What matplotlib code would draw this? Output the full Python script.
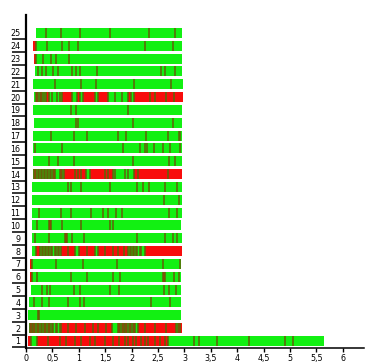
import matplotlib
matplotlib.use("Agg")
import matplotlib.pyplot as plt
import numpy as np

# ---- data: for each row, segment edges (start ... end) and segment colours (g=green, r=red)
r25_edges = [0.18, 0.37, 0.66, 1.02, 1.59, 2.33, 2.83, 2.95]
r25_cols = "ggggggg"
r24_edges = [0.14, 0.18, 0.40, 0.69, 0.82, 0.99, 2.25, 2.79, 2.95]
r24_cols = "rggggggg"
r23_edges = [0.15, 0.18, 0.33, 0.47, 0.56, 0.81, 2.95]
r23_cols = "rggggg"
r22_edges = [0.17, 0.22, 0.30, 0.38, 0.52, 0.61, 0.87, 0.95, 1.02, 1.35, 2.56, 2.64, 2.83, 2.95]
r22_cols = "ggggggggggggg"
r21_edges = [0.14, 0.54, 1.04, 1.33, 2.05, 2.74, 2.97]
r21_cols = "gggggg"
r20_edges = [0.145, 0.19, 0.23, 0.27, 0.30, 0.34, 0.37, 0.44, 0.49, 0.58, 0.64, 0.68, 0.88,
             0.96, 1.02, 1.07, 1.31, 1.36, 1.56, 1.69, 1.81, 1.93, 1.98, 2.04, 2.35, 2.44,
             2.66, 2.80, 2.97]
r20_cols = "grgrggrggggrgrgrgrgggrgrrrrr"
r19_edges = [0.13, 0.86, 0.95, 1.94, 2.95]
r19_cols = "gggg"
r18_edges = [0.15, 0.95, 0.98, 2.03, 2.79, 2.95]
r18_cols = "ggggg"
r17_edges = [0.13, 0.47, 0.90, 1.16, 1.75, 1.89, 2.27, 2.68, 2.89, 2.92, 2.95]
r17_cols = "gggggggggg"
r16_edges = [0.13, 0.17, 0.69, 1.84, 2.16, 2.25, 2.30, 2.42, 2.60, 2.73, 2.92, 2.95]
r16_cols = "ggggggggggg"
r15_edges = [0.13, 0.44, 0.60, 0.90, 2.03, 2.70, 2.83, 2.95]
r15_cols = "ggggggg"
r14_edges = [0.13, 0.16, 0.18, 0.22, 0.24, 0.28, 0.30, 0.34, 0.36, 0.40, 0.42, 0.46, 0.48,
             0.52, 0.54, 0.64, 0.68, 0.72, 0.92, 0.98, 1.05, 1.14, 1.21, 1.49, 1.55, 1.65,
             1.68, 1.87, 1.93, 2.05, 2.12, 2.69, 2.95]
r14_cols = "grgrgrgrgrgrgr" + "grgrrrrgrrrggggrrr"
r13_edges = [0.12, 0.80, 0.86, 1.05, 1.59, 2.10, 2.22, 2.33, 2.63, 2.85, 2.95]
r13_cols = "gggggggggg"
r12_edges = [0.12, 2.62, 2.90, 2.95]
r12_cols = "ggg"
r11_edges = [0.12, 0.25, 0.66, 0.85, 1.23, 1.46, 1.55, 1.70, 1.81, 2.70, 2.85, 2.95]
r11_cols = "ggggggggggg"
r10_edges = [0.12, 0.21, 0.44, 0.47, 0.68, 1.05, 1.59, 1.64, 2.94]
r10_cols = "ggrggggg"
r09_edges = [0.12, 0.17, 0.44, 0.74, 0.77, 0.88, 1.09, 2.10, 2.63, 2.79, 2.85, 2.95]
r09_cols = "gggrggggggg"
r08_edges = [0.12, 0.19, 0.26, 0.30, 0.32, 0.36, 0.38, 0.42, 0.44, 0.48, 0.50, 0.54, 0.56,
             0.60, 0.62, 0.66, 0.80, 0.93, 1.00, 1.15, 1.30, 1.36, 1.50, 1.65, 1.75, 1.85,
             1.93, 1.97, 1.99, 2.03, 2.05, 2.09, 2.11, 2.15, 2.17, 2.25, 2.95]
r08_cols = "gr" + "grgrgrgrgrgrg" + "rrgrrgrrrrr" + "grgrgrgrgr"
r07_edges = [0.07, 0.12, 0.57, 1.07, 1.73, 2.60, 2.92, 2.94]
r07_cols = "rgggggg"
r06_edges = [0.07, 0.11, 0.21, 0.85, 1.16, 1.65, 1.78, 2.60, 2.63, 2.80, 2.89, 2.94]
r06_cols = "rggggggrggg"
r05_edges = [0.09, 0.30, 0.39, 0.45, 0.90, 1.02, 1.59, 1.76, 2.62, 2.71, 2.84, 2.94]
r05_cols = "ggggggggggg"
r04_edges = [0.05, 0.16, 0.30, 0.44, 0.80, 1.02, 1.09, 2.37, 2.73, 2.94]
r04_cols = "ggggggggg"
r03_edges = [0.04, 0.23, 0.25, 2.94]
r03_cols = "grg"
r02_edges = [0.05, 0.08, 0.11, 0.14, 0.17, 0.21, 0.24, 0.28, 0.31, 0.35, 0.38, 0.42, 0.45,
             0.49, 0.52, 0.56, 0.59, 0.64, 0.67, 0.80, 0.95, 1.11, 1.27, 1.36, 1.52, 1.62,
             1.74, 1.78, 1.81, 1.85, 1.88, 1.92, 1.95, 1.99, 2.02, 2.06, 2.12, 2.25, 2.44,
             2.66, 2.84, 2.88, 2.91, 2.95]
r02_cols = "grgrgrgrgrgrgrgrgr" + "rrrrrrr" + "grgrgrgrgrg" + "rrrrgrr"
r01_edges = [0.04, 0.10, 0.20, 0.42, 0.64, 0.76, 0.92, 1.05, 1.21, 1.30, 1.49, 1.65, 1.77,
             1.87, 1.93, 2.03, 2.09, 2.18, 2.25, 2.31, 2.44, 2.53, 2.63, 2.69, 3.18, 3.28,
             3.62, 4.22, 4.91, 5.05, 5.65]
r01_cols = "rg" + "r" * 21 + "g" * 7

row_labels = [str(i) for i in range(1, 26)]
x_ticks = [0, 0.5, 1, 1.5, 2, 2.5, 3, 3.5, 4, 4.5, 5, 5.5, 6]
x_tick_labels = ["0", "0,5", "1", "1,5", "2", "2,5", "3", "3,5", "4", "4,5", "5", "5,5", "6"]

rows = [
    (r01_edges, r01_cols), (r02_edges, r02_cols), (r03_edges, r03_cols), (r04_edges, r04_cols),
    (r05_edges, r05_cols), (r06_edges, r06_cols), (r07_edges, r07_cols), (r08_edges, r08_cols),
    (r09_edges, r09_cols), (r10_edges, r10_cols), (r11_edges, r11_cols), (r12_edges, r12_cols),
    (r13_edges, r13_cols), (r14_edges, r14_cols), (r15_edges, r15_cols), (r16_edges, r16_cols),
    (r17_edges, r17_cols), (r18_edges, r18_cols), (r19_edges, r19_cols), (r20_edges, r20_cols),
    (r21_edges, r21_cols), (r22_edges, r22_cols), (r23_edges, r23_cols), (r24_edges, r24_cols),
    (r25_edges, r25_cols),
]

GREEN = "#12f012"
RED = "#f80c0c"
SEP = "#5f6408"
cmap = {"g": GREEN, "r": RED}
H = 0.78

fig = plt.figure(figsize=(3.71, 3.62), dpi=100)
ax = fig.add_axes([26 / 371, 14 / 362, 338 / 371, 333 / 362])

for i, (edges, cols) in enumerate(rows):
    y = i + 1
    e = np.array(edges)
    lefts = e[:-1]
    widths = np.diff(e)
    ax.barh(np.full(len(widths), y), widths, left=lefts, height=H,
            color=[cmap[c] for c in cols], linewidth=0)
    ax.vlines(e[1:-1], y - H / 2, y + H / 2, color=SEP, linewidth=1.15)

ax.set_xlim(0, 6.4)
ax.set_ylim(0.45, 26.4)

for s in ("top", "right"):
    ax.spines[s].set_visible(False)
ax.spines["left"].set_linewidth(1.6)
ax.spines["bottom"].set_linewidth(1.1)

ax.set_xticks(x_ticks)
ax.set_xticklabels(x_tick_labels, fontsize=5.8)
ax.tick_params(axis="x", length=3, width=1.0, pad=1.5, direction="out")

n = len(row_labels)
ax.set_yticks(np.arange(1, n + 1) - 0.5)
ax.set_yticklabels([])
ax.tick_params(axis="y", which="major", length=10, width=1.1, direction="out")
ax.set_yticks(np.arange(1, n + 1), minor=True)
ax.set_yticklabels(row_labels, minor=True, fontsize=5.8)
ax.tick_params(axis="y", which="minor", length=0, pad=4)

fig.savefig("out.png", dpi=100)
